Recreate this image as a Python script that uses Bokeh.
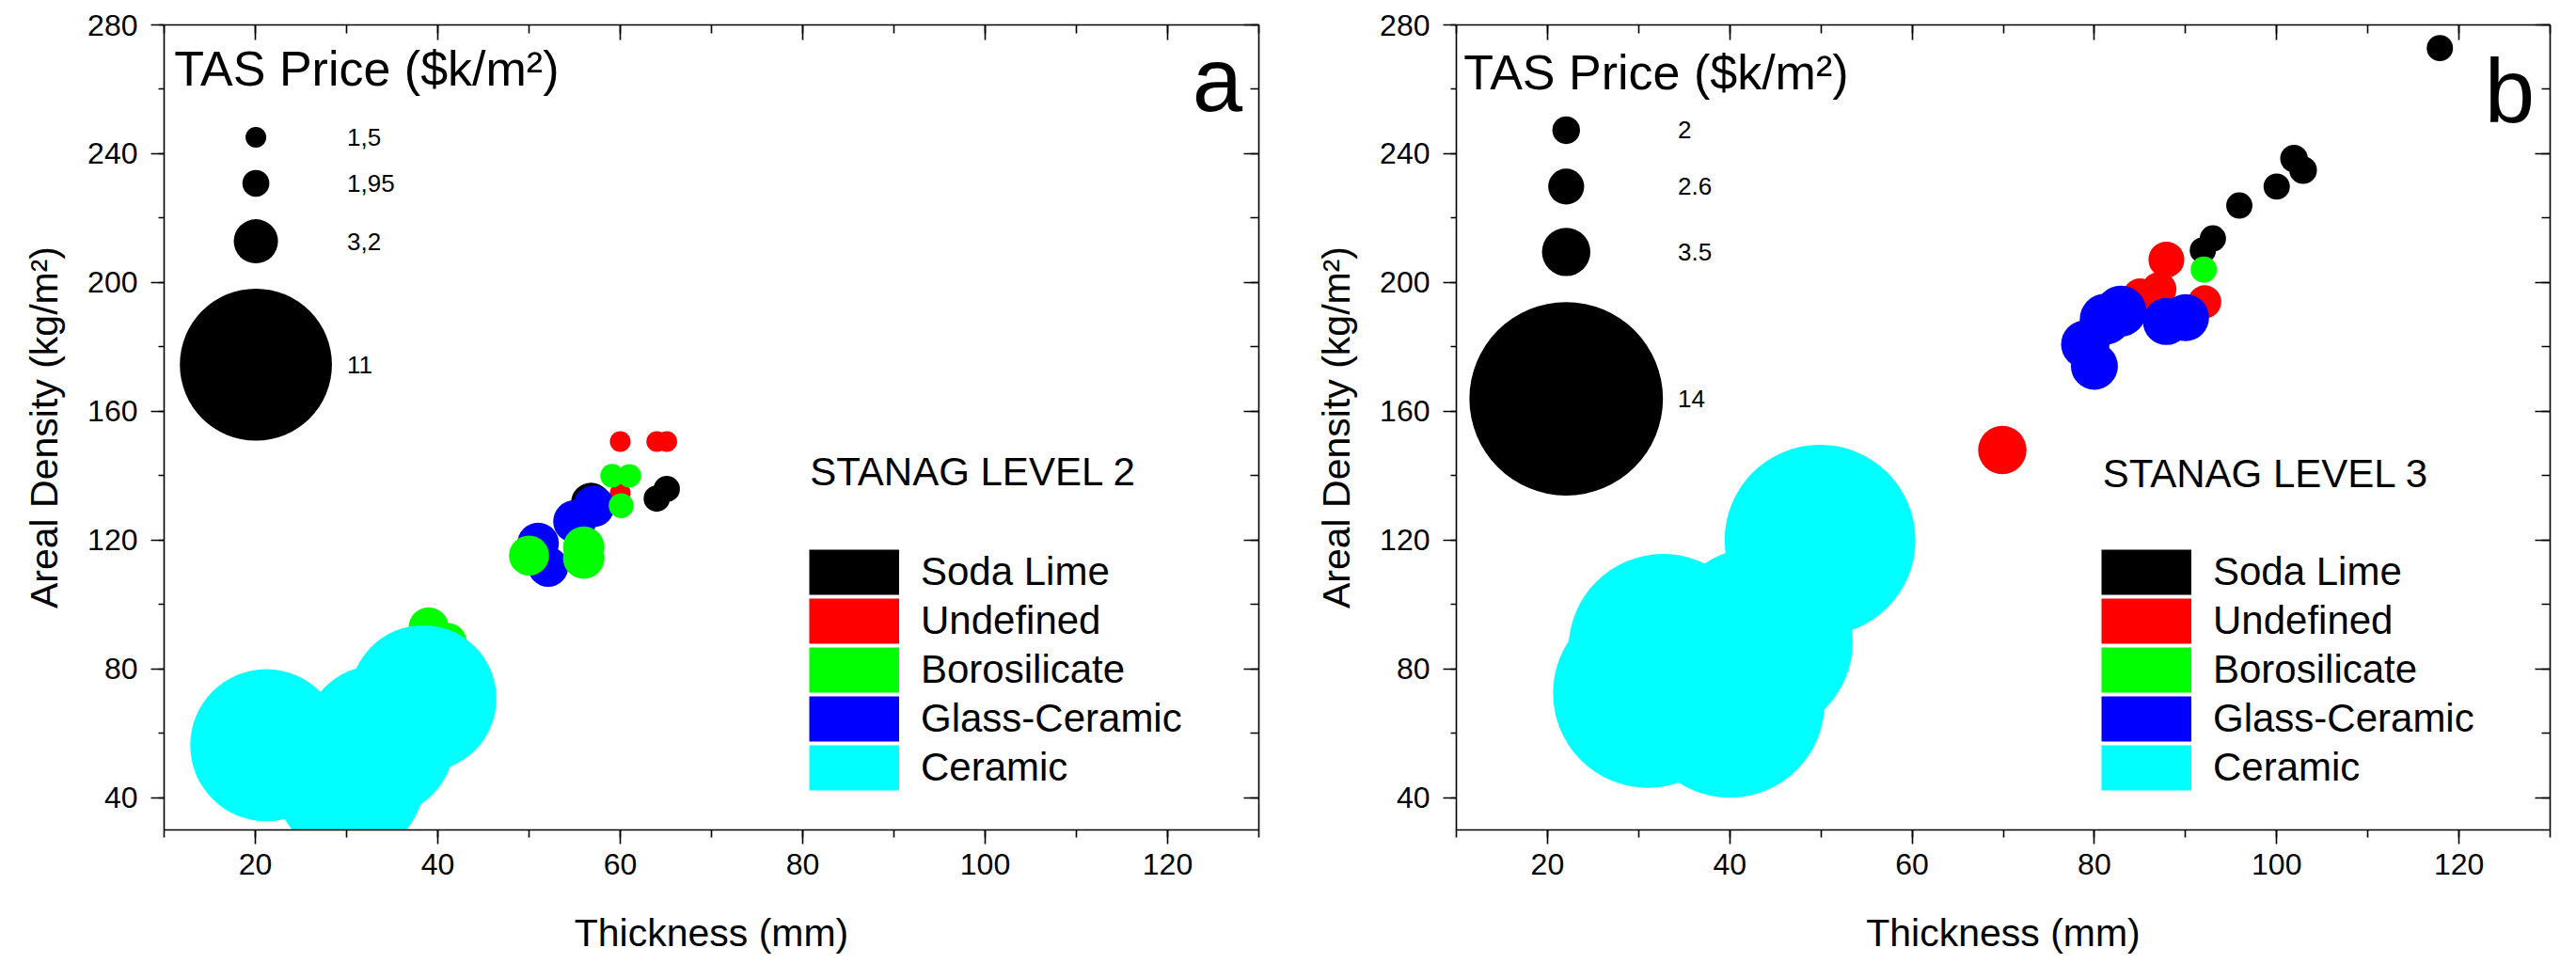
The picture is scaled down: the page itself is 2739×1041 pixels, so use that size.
from bokeh.core.properties import value
from bokeh.embed import file_html
from bokeh.layouts import row
from bokeh.models import (ColumnDataSource, CustomJSTickFormatter, Label, Legend,
                          LegendItem, LinearAxis, LinearInterpolator, Range1d,
                          SingleIntervalTicker)
from bokeh.plotting import figure
from bokeh.resources import INLINE
from bokeh.transform import transform

FONT = "Liberation Sans"

categories = ["Soda Lime", "Undefined", "Borosilicate", "Glass-Ceramic", "Ceramic"]
colors = ["#000000", "#ff0000", "#00ff00", "#0000ff", "#00ffff"]
# glass-ceramic is drawn before borosilicate, ceramic last
draw_order = [0, 1, 3, 2, 4]

# STANAG level 2: thickness (mm), areal density (kg/m2), TAS price ($k/m2)
l2_soda_x = [56.8, 64.0, 65.1]
l2_soda_y = [131.6, 132.9, 135.9]
l2_soda_price = [2.9, 1.9, 1.9]

l2_undef_x = [60.0, 64.0, 65.1, 60.0]
l2_undef_y = [150.6, 150.6, 150.6, 134.6]
l2_undef_price = [1.5, 1.5, 1.5, 1.5]

l2_boro_x = [59.1, 61.0, 60.1, 50.0, 56.0, 56.0, 39.0, 41.0]
l2_boro_y = [140.0, 140.0, 130.7, 115.2, 117.8, 114.4, 92.9, 88.1]
l2_boro_price = [1.7, 1.7, 1.8, 2.9, 3.0, 3.0, 2.9, 2.9]

l2_glassc_x = [57.1, 55.0, 51.0, 52.1]
l2_glassc_y = [130.5, 125.8, 119.0, 111.7]
l2_glassc_price = [3.0, 3.1, 3.0, 2.9]

l2_ceramic_x = [21.2, 30.3, 33.5, 38.4]
l2_ceramic_y = [56.3, 45.0, 57.6, 70.8]
l2_ceramic_price = [11.0, 10.8, 11.0, 10.6]

# STANAG level 3
l3_soda_x = [117.9, 101.9, 102.9, 100.0, 95.9, 93.0, 91.9]
l3_soda_y = [272.8, 238.5, 234.9, 229.8, 223.9, 213.7, 210.0]
l3_soda_price = [1.9, 2.0, 2.0, 1.9, 1.9, 1.9, 1.9]

l3_undef_x = [69.9, 87.9, 87.1, 85.0, 92.1]
l3_undef_y = [148.0, 207.1, 197.9, 195.9, 194.0]
l3_undef_price = [3.5, 2.6, 2.5, 2.5, 2.4]

l3_boro_x = [92.0]
l3_boro_y = [204.0]
l3_boro_price = [1.9]

l3_glassc_x = [81.2, 82.9, 79.0, 80.0, 87.9, 90.0]
l3_glassc_y = [188.6, 191.1, 180.8, 174.0, 187.9, 189.1]
l3_glassc_price = [3.7, 3.7, 3.5, 3.4, 3.4, 3.4]

l3_ceramic_x = [31.0, 32.7, 40.0, 43.1, 49.9]
l3_ceramic_y = [72.5, 86.3, 69.4, 88.4, 120.0]
l3_ceramic_price = [13.7, 13.7, 13.7, 13.7, 13.8]

# bubble size keys
l2_key_price = [1.5, 1.95, 3.2, 11]
l2_key_labels = ["1,5", "1,95", "3,2", "11"]
l3_key_price = [2, 2.6, 3.5, 14]
l3_key_labels = ["2", "2.6", "3.5", "14"]

# bubble diameter in px per $k/m2
size_map = LinearInterpolator(x=[0, 14], y=[0, 14 * 14.7], clip=False)
NAN = float("nan")


def style_axes(p):
    p.xaxis.ticker = SingleIntervalTicker(interval=20, num_minor_ticks=2)
    p.yaxis.ticker = SingleIntervalTicker(interval=40, num_minor_ticks=2)
    for ax in p.xaxis + p.yaxis:
        ax.axis_line_width = 1.6
        ax.major_tick_line_width = 1.6
        ax.minor_tick_line_width = 1.6
        ax.major_tick_in = 0
        ax.minor_tick_in = 0
        ax.major_label_text_font = FONT
        ax.major_label_text_font_size = "32px"
        ax.major_label_text_color = "black"
        ax.axis_label_text_font = FONT
        ax.axis_label_text_font_size = "41px"
        ax.axis_label_text_font_style = "normal"
        ax.axis_label_text_color = "black"
    p.xaxis.major_tick_out = 15
    p.xaxis.minor_tick_out = 8
    p.xaxis.major_label_standoff = 10
    p.xaxis.axis_label_standoff = 36
    p.yaxis.major_tick_out = 14
    p.yaxis.minor_tick_out = 6
    p.yaxis.major_label_standoff = 14
    p.yaxis.axis_label_standoff = 20

    blank = CustomJSTickFormatter(code="return ''")
    mirror = dict(formatter=blank, major_label_text_font_size="0px", major_label_standoff=0,
                  axis_line_width=1.6, major_tick_line_width=1.6, minor_tick_line_width=1.6,
                  major_tick_in=16, major_tick_out=0, minor_tick_in=9, minor_tick_out=0)
    p.add_layout(LinearAxis(ticker=SingleIntervalTicker(interval=20, num_minor_ticks=2), **mirror), "above")
    p.add_layout(LinearAxis(ticker=SingleIntervalTicker(interval=40, num_minor_ticks=2), **mirror), "right")


def add_text(p, xy, text, size):
    p.add_layout(Label(x=xy[0], y=xy[1], text=text, text_font=FONT, text_font_size=size,
                       text_baseline="middle", text_align="left", text_color="black"))


def make_panel(series, key_price, key_labels, lay, width, border_left, border_right):
    p = figure(width=width, height=1025, x_range=Range1d(10, 130), y_range=Range1d(30, 280),
               output_backend="svg", toolbar_location=None, tools="",
               min_border_left=border_left, min_border_right=border_right,
               min_border_top=26, min_border_bottom=143,
               x_axis_label="Thickness (mm)", y_axis_label="Areal Density (kg/m²)")
    p.xgrid.visible = False
    p.ygrid.visible = False
    p.outline_line_color = None
    style_axes(p)

    for i in draw_order:
        xs, ys, price = series[i]
        src = ColumnDataSource(dict(x=xs, y=ys, price=price))
        p.scatter("x", "y", source=src, size=transform("price", size_map),
                  fill_color=colors[i], line_color=None)

    # bubble size key
    key_src = ColumnDataSource(dict(x=[lay["key_x"]] * len(key_price), y=lay["key_y"],
                                    price=key_price, lx=[lay["key_label_x"]] * len(key_price),
                                    label=key_labels))
    p.scatter("x", "y", source=key_src, size=transform("price", size_map),
              fill_color="black", line_color=None)
    p.text("lx", "y", text="label", source=key_src, text_font=value(FONT),
           text_font_size="26px", text_baseline="middle", text_align="left", text_color="black")

    add_text(p, lay["title_xy"], "TAS Price ($k/m²)", "52px")
    add_text(p, lay["level_xy"], lay["level"], "42px")
    add_text(p, lay["letter_xy"], lay["letter"], "96px")

    # colour swatches for the category legend: a thick line glyph fills the whole swatch
    items = []
    for name, color in zip(categories, colors):
        r = p.line(x=[NAN], y=[NAN], line_color=color, line_width=48, line_cap="butt")
        items.append(LegendItem(label=name, renderers=[r]))
    legend = Legend(items=items, location=(686, 40), glyph_width=96, glyph_height=52,
                    label_height=52, spacing=0, padding=0, margin=0, label_standoff=23,
                    border_line_color=None, background_fill_alpha=0,
                    label_text_font=FONT, label_text_font_size="42px",
                    label_text_color="black")
    p.add_layout(legend)
    return p


l2_series = [(l2_soda_x, l2_soda_y, l2_soda_price),
             (l2_undef_x, l2_undef_y, l2_undef_price),
             (l2_boro_x, l2_boro_y, l2_boro_price),
             (l2_glassc_x, l2_glassc_y, l2_glassc_price),
             (l2_ceramic_x, l2_ceramic_y, l2_ceramic_price)]
l3_series = [(l3_soda_x, l3_soda_y, l3_soda_price),
             (l3_undef_x, l3_undef_y, l3_undef_price),
             (l3_boro_x, l3_boro_y, l3_boro_price),
             (l3_glassc_x, l3_glassc_y, l3_glassc_price),
             (l3_ceramic_x, l3_ceramic_y, l3_ceramic_price)]

# text anchors are the vertical centres of the lettering, in data units
lay_a = dict(key_x=20.06, key_label_x=30.05, key_y=[245.1, 230.8, 212.8, 174.5],
             title_xy=(11.1, 266.3), level="STANAG LEVEL 2", level_xy=(80.8, 141.4),
             letter="a", letter_xy=(122.7, 263.1))
lay_b = dict(key_x=22.05, key_label_x=34.3, key_y=[247.3, 229.8, 209.5, 163.9],
             title_xy=(10.8, 265.2), level="STANAG LEVEL 3", level_xy=(80.9, 140.7),
             letter="b", letter_xy=(122.8, 259.6))

pa = make_panel(l2_series, l2_key_price, l2_key_labels, lay_a, 1372, 174, 34)
pb = make_panel(l3_series, l3_key_price, l3_key_labels, lay_b, 1351, 176, 12)

layout = row(pa, pb)
open("out.html", "w").write(file_html(layout, INLINE))
